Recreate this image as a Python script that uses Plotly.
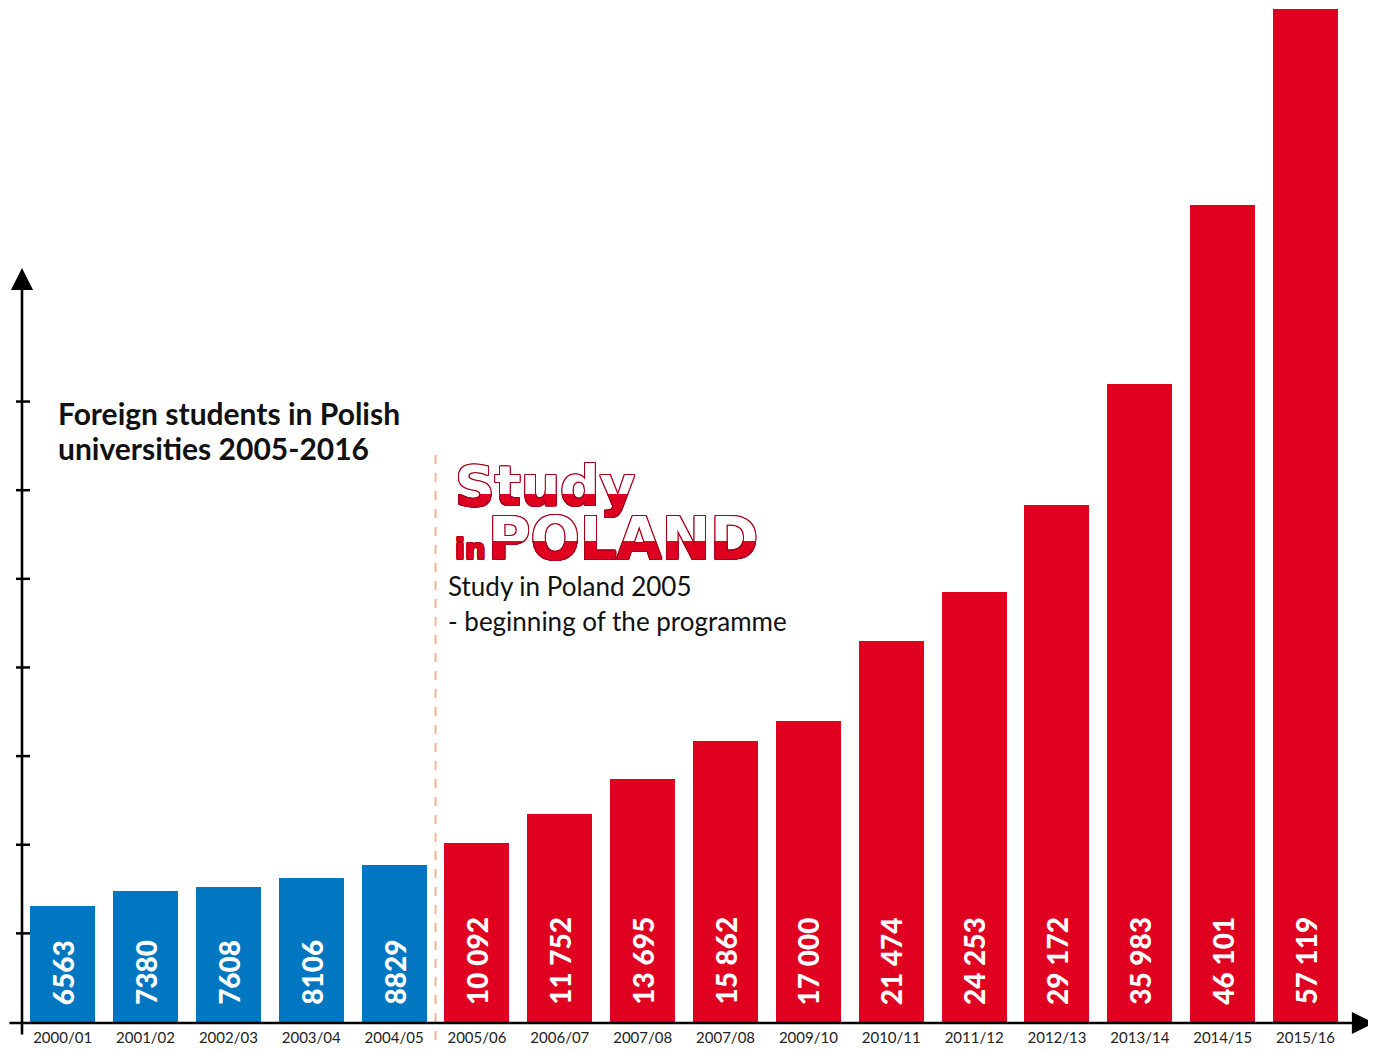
import plotly.graph_objects as go

# ---- data ----
SEASONS = ["2000/01", "2001/02", "2002/03", "2003/04", "2004/05",
           "2005/06", "2006/07", "2007/08", "2007/08", "2009/10",
           "2010/11", "2011/12", "2012/13", "2013/14", "2014/15", "2015/16"]
STUDENTS = [6563, 7380, 7608, 8106, 8829,
            10092, 11752, 13695, 15862, 17000,
            21474, 24253, 29172, 35983, 46101, 57119]
PROGRAMME_START_INDEX = 5          # first season of "Study in Poland"
Y_TICKS = [5000, 10000, 15000, 20000, 25000, 30000, 35000]

TITLE_LINES = ["Foreign students in Polish", "universities 2005-2016"]
NOTE_LINES = ["Study in Poland 2005", "- beginning of the programme"]

BLUE = "#0077c0"
RED = "#e00020"
DARK_RED = "#a8001c"
OFF = 8                      # page offset of the figure div
W, H = 1376 - OFF, 1050 - OFF
BOTTOM = 28

def fmt(v):
    return str(v) if v < 10000 else f"{v:,}".replace(",", " ")

def py(px):  # page pixel y -> paper y
    return 1 - (px - OFF) / H

idx = list(range(len(SEASONS)))
colors = [BLUE if i < PROGRAMME_START_INDEX else RED for i in idx]

fig = go.Figure()
fig.add_trace(go.Bar(
    x=idx, y=STUDENTS, marker=dict(color=colors, line=dict(width=0)),
    width=0.784, hoverinfo="skip", showlegend=False))

# value labels inside bars (rotated)
for i, v in zip(idx, STUDENTS):
    fig.add_annotation(x=i, y=0, xref="x", yref="y", text=fmt(v),
                       textangle=-90, showarrow=False, yanchor="bottom",
                       xanchor="center", yshift=15,
                       font=dict(family="Lato", size=28, color="white", weight=900))

# ---- logo (pixel overlay subplots) ----
def outline(c):
    return (f"1px 0 {c}, -1px 0 {c}, 0 1px {c}, 0 -1px {c}, "
            f"1px 1px {c}, -1px -1px {c}, 1px -1px {c}, -1px 1px {c}")

LOGO_FONT = "DejaVu Sans"

def logo_text(txt, x, y, size, color, axes, clip):
    fig.add_trace(go.Scatter(
        x=[x], y=[y], mode="text", text=[txt], textposition="middle right",
        textfont=dict(family=LOGO_FONT, size=size, color=color, weight="bold",
                      shadow=outline(DARK_RED)),
        xaxis=axes[0], yaxis=axes[1], cliponaxis=clip,
        hoverinfo="skip", showlegend=False))

logo_text("Study", 455, 491, 55, "white", ("x2", "y2"), False)
logo_text("POLAND", 488, 544, 58, "white", ("x2", "y2"), False)
logo_text("in", 455, 552, 29, RED, ("x2", "y2"), False)
logo_text("Study", 455, 491, 55, RED, ("x3", "y3"), True)
logo_text("POLAND", 488, 544, 58, RED, ("x4", "y4"), True)

# ---- axes lines with arrows (page pixel coords on x2/y2) ----
fig.add_annotation(x=22, y=268, ax=22, ay=1036, xref="x2", yref="y2",
                   axref="x2", ayref="y2", text="", showarrow=True,
                   arrowhead=2, arrowsize=1.7, arrowwidth=2.6, arrowcolor="black")
fig.add_annotation(x=1374, y=1023, ax=8, ay=1023, xref="x2", yref="y2",
                   axref="x2", ayref="y2", text="", showarrow=True,
                   arrowhead=2, arrowsize=1.7, arrowwidth=2.6, arrowcolor="black")
# y ticks
for t in Y_TICKS:
    fig.add_shape(type="line", xref="x2", yref="y", x0=16, x1=30, y0=t, y1=t,
                  line=dict(color="black", width=2.5))

# dashed separator
fig.add_shape(type="line", xref="x", yref="y2",
              x0=PROGRAMME_START_INDEX - 0.5, x1=PROGRAMME_START_INDEX - 0.5,
              y0=455, y1=1042, line=dict(color="#f2b48f", width=2, dash="dash"))

# title
for k, line in enumerate(TITLE_LINES):
    fig.add_annotation(x=56, y=413 + 35 * k, xref="x2", yref="y2", text=line,
                       showarrow=False, xanchor="left", yanchor="middle",
                       font=dict(family="Lato", size=30, color="#111", weight="bold"))
for k, line in enumerate(NOTE_LINES):
    fig.add_annotation(x=446, y=586 + 35 * k, xref="x2", yref="y2", text=line,
                       showarrow=False, xanchor="left", yanchor="middle",
                       font=dict(family="Lato", size=26, color="#111"))

hidden = dict(visible=False, showgrid=False, zeroline=False)
px0, step = 62.65, 82.86          # page x of first bar centre, bar spacing
x_lo = (OFF - px0) / step
fig.update_layout(
    width=W, height=H, margin=dict(l=0, r=0, t=0, b=0),
    paper_bgcolor="white", plot_bgcolor="rgba(0,0,0,0)",
    bargap=0,
    xaxis=dict(domain=[0, 1], range=[x_lo, x_lo + W / step], tickmode="array",
               tickvals=idx, ticktext=SEASONS, showgrid=False, zeroline=False,
               showline=False, ticks="", ticklabelstandoff=5,
               tickfont=dict(family="Lato", size=15, color="#222")),
    yaxis=dict(domain=[BOTTOM / H, 1], range=[0, 57200], showgrid=False,
               zeroline=False, showticklabels=False, showline=False),
    xaxis2=dict(domain=[0, 1], range=[OFF, OFF + W], anchor="y2", **hidden),
    yaxis2=dict(domain=[0, 1], range=[OFF + H, OFF], anchor="x2", **hidden),
    xaxis3=dict(domain=[0, 1], range=[OFF, OFF + W], anchor="y3", **hidden),
    yaxis3=dict(domain=[py(526), py(494)], range=[526, 494], anchor="x3", **hidden),
    xaxis4=dict(domain=[0, 1], range=[OFF, OFF + W], anchor="y4", **hidden),
    yaxis4=dict(domain=[py(572), py(541)], range=[572, 541], anchor="x4", **hidden),
)

fig.write_html("out.html")
